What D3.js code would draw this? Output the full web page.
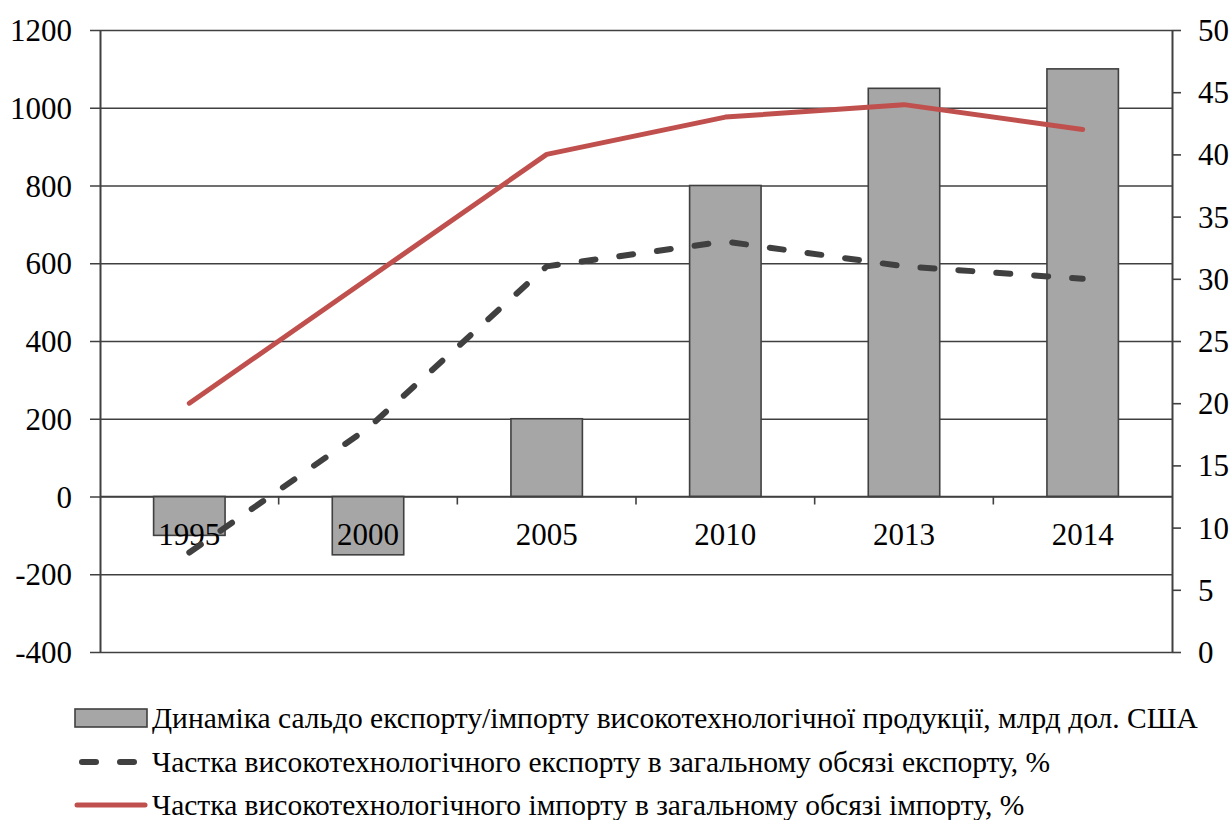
<!DOCTYPE html>
<html>
<head>
<meta charset="utf-8">
<script src="https://cdn.jsdelivr.net/npm/d3@7"></script>
<style>
  body { margin: 0; background: #fff; }
  svg text { font-family: "Liberation Serif", "Times New Roman", serif; fill: #000; }
</style>
</head>
<body>
<div id="chart"></div>
<script>
const years = ['1995', '2000', '2005', '2010', '2013', '2014'];
const balance = [-100, -150, 200, 800, 1050, 1100];      // млрд дол. США
const exportShare = [8, 18, 31, 33, 31, 30];             // %
const importShare = [20, 30, 40, 43, 44, 42];            // %
const leftTicks = [-400, -200, 0, 200, 400, 600, 800, 1000, 1200];
const rightTicks = [0, 5, 10, 15, 20, 25, 30, 35, 40, 45, 50];
const legendLabels = [
  'Динаміка сальдо експорту/імпорту високотехнологічної продукції, млрд дол. США',
  'Частка високотехнологічного експорту в загальному обсязі експорту, %',
  'Частка високотехнологічного імпорту в загальному обсязі імпорту, %'
];

const W = 1232, H = 820;
const margin = { top: 30, right: 60, bottom: 168, left: 100 };
const width = W - margin.left - margin.right;
const height = H - margin.top - margin.bottom;
const axisColor = '#404040';
const fmt = d => String(d);

const svg = d3.select('#chart').append('svg')
  .attr('width', W).attr('height', H);
const g = svg.append('g')
  .attr('transform', `translate(${margin.left},${margin.top})`);

const x = d3.scaleBand().domain(years).range([0, width]);
const yL = d3.scaleLinear().domain([-400, 1200]).range([height, 0]);
const yR = d3.scaleLinear().domain([0, 50]).range([height, 0]);

// gridlines + left axis
const left = g.append('g').call(d3.axisLeft(yL).tickValues(leftTicks).tickFormat(fmt)
  .tickSize(10).tickPadding(18).tickSizeOuter(0));
left.attr('font-family', null);
left.selectAll('.tick line').attr('x1', -10).attr('x2', width)
  .attr('stroke', axisColor).attr('stroke-width', 1.6);
left.select('.domain').attr('stroke', axisColor).attr('stroke-width', 2);
left.selectAll('text').style('font-size', '31px').attr('dy', '0.34em');

// right axis
const right = g.append('g').attr('transform', `translate(${width},0)`)
  .call(d3.axisRight(yR).tickValues(rightTicks).tickFormat(fmt)
    .tickSize(9).tickPadding(17).tickSizeOuter(0));
right.attr('font-family', null);
right.selectAll('.tick line').attr('stroke', axisColor).attr('stroke-width', 1.6);
right.select('.domain').attr('stroke', axisColor).attr('stroke-width', 2);
right.selectAll('text').style('font-size', '31px').attr('dy', '0.34em');

// category ticks on the zero line
g.append('g').selectAll('line').data(years.slice(1)).join('line')
  .attr('x1', d => x(d)).attr('x2', d => x(d))
  .attr('y1', yL(0)).attr('y2', yL(0) + 8)
  .attr('stroke', axisColor).attr('stroke-width', 1.6);

// bars
const bw = x.bandwidth() * 0.4;
g.append('g').selectAll('rect').data(years).join('rect')
  .attr('x', d => x(d) + (x.bandwidth() - bw) / 2)
  .attr('y', (d, i) => yL(Math.max(0, balance[i])))
  .attr('width', bw)
  .attr('height', (d, i) => Math.abs(yL(balance[i]) - yL(0)))
  .attr('fill', '#a6a6a6')
  .attr('stroke', axisColor).attr('stroke-width', 1.6);

// zero line on top of bars
g.append('line').attr('x1', 0).attr('x2', width)
  .attr('y1', yL(0)).attr('y2', yL(0))
  .attr('stroke', axisColor).attr('stroke-width', 1.6);

// category labels
g.append('g').selectAll('text').data(years).join('text')
  .attr('x', d => x(d) + x.bandwidth() / 2)
  .attr('y', yL(0) + 48)
  .attr('text-anchor', 'middle')
  .style('font-size', '31px')
  .text(d => d);

const cx = d => x(d) + x.bandwidth() / 2;
const line = vals => d3.line().x(d => cx(d)).y((d, i) => yR(vals[i]))(years);

g.append('path').attr('d', line(importShare))
  .attr('fill', 'none').attr('stroke', '#c0504d').attr('stroke-width', 5)
  .attr('stroke-linecap', 'round').attr('stroke-linejoin', 'round');

g.append('path').attr('d', line(exportShare))
  .attr('fill', 'none').attr('stroke', '#404040').attr('stroke-width', 6)
  .attr('stroke-dasharray', '14,24')
  .attr('stroke-linecap', 'round').attr('stroke-linejoin', 'round');

// legend
const lg = svg.append('g').attr('transform', 'translate(75,0)');
const rows = [718, 762, 805];
lg.append('rect').attr('x', 0).attr('y', rows[0] - 9).attr('width', 72).attr('height', 18)
  .attr('fill', '#a6a6a6').attr('stroke', axisColor).attr('stroke-width', 1.6);
lg.append('line').attr('x1', 3).attr('x2', 69).attr('y1', rows[1]).attr('y2', rows[1])
  .attr('stroke', '#404040').attr('stroke-width', 6)
  .attr('stroke-dasharray', '14,24').attr('stroke-dashoffset', -4)
  .attr('stroke-linecap', 'round');
lg.append('line').attr('x1', 2).attr('x2', 70).attr('y1', rows[2]).attr('y2', rows[2])
  .attr('stroke', '#c0504d').attr('stroke-width', 5).attr('stroke-linecap', 'round');
lg.selectAll('text.lbl').data(legendLabels).join('text')
  .attr('class', 'lbl')
  .attr('x', 77).attr('y', (d, i) => rows[i])
  .attr('dy', '0.34em')
  .style('font-size', '29.5px')
  .text(d => d);
</script>
</body>
</html>
